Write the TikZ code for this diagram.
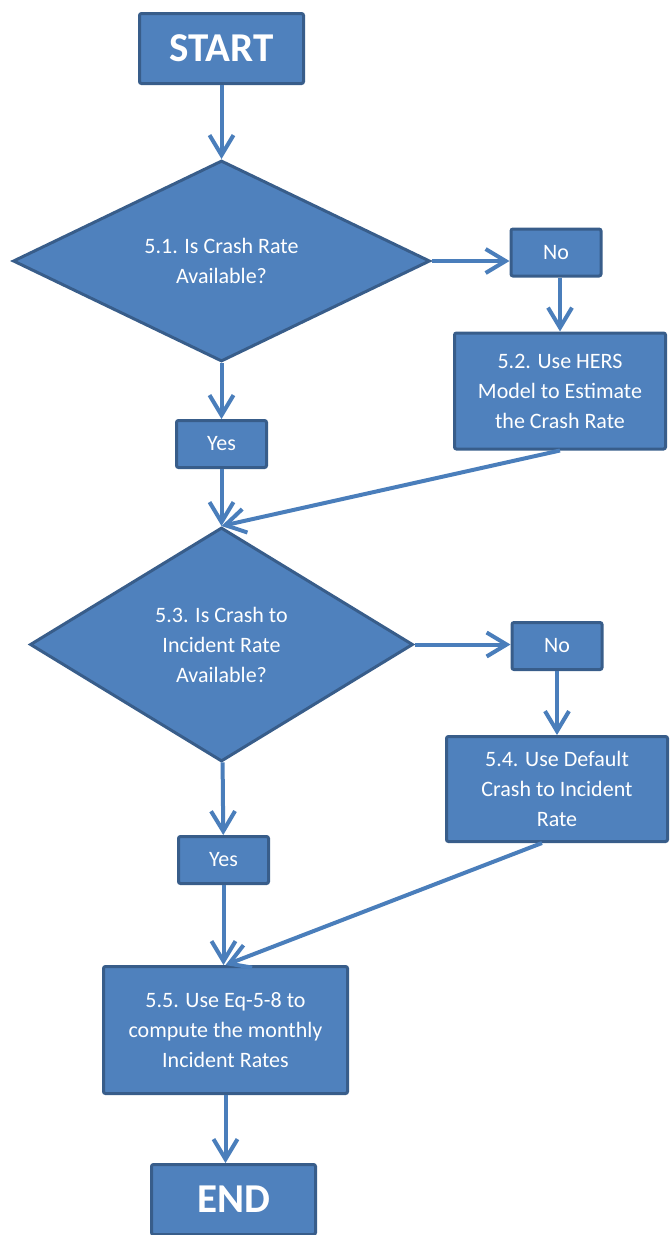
\documentclass[tikz,border=0pt]{standalone}
\usepackage{fontspec}
\setmainfont{Carlito}
\usepackage{xcolor}
\usepackage{tikz}
\usetikzlibrary{shapes.geometric, arrows.meta, positioning}
\definecolor{flowfill}{RGB}{79, 129, 189}
\definecolor{flowedge}{RGB}{56, 93, 138}
\definecolor{flowarrow}{RGB}{74, 126, 187}

\begin{document}
\begin{tikzpicture}[
    x=1pt, y=-1pt,
    every node/.style={font=\fontsize{22}{30}\selectfont, text=white},
    box/.style={rectangle, draw=flowedge, line width=3pt, fill=flowfill, rounded corners=2pt, inner sep=0pt, align=center},
    terminal/.style={box, minimum width=164pt, minimum height=70pt, font=\fontsize{41}{45}\selectfont\bfseries},
    answer/.style={box, minimum width=90pt, minimum height=47pt},
    process/.style={box},
    decision/.style={diamond, aspect=2, draw=flowedge, line width=3pt, fill=flowfill, inner sep=0pt, align=center},
    arrow/.style={-{Straight Barb[length=20pt, width=24pt]}, line width=4pt, draw=flowarrow}
]
\useasboundingbox (0,0) rectangle (670,1235);

% Main flow
\node[terminal] (start) at (221.5,48.5) {START};
\node[decision, minimum width=417pt, minimum height=201pt, below=74pt of start] (crashq) {5.1. Is Crash Rate\\Available?};
\node[answer, below=56pt of crashq] (yes1) {Yes};
\node[decision, minimum width=383pt, minimum height=234pt, below=57pt of yes1] (incq) {5.3. Is Crash to\\Incident Rate\\Available?};
\node[answer, below=72pt of incq, xshift=2pt] (yes2) {Yes};
\node[process, minimum width=244pt, minimum height=127pt, below=80pt of yes2, xshift=2pt] (compute) {5.5. Use Eq-5-8 to\\compute the monthly\\Incident Rates};
\node[terminal, below=68pt of compute, xshift=8pt] (stop) {END};

% No branches
\node[answer, right=78pt of crashq, yshift=8.5pt] (no1) {No};
\node[process, minimum width=211pt, minimum height=116pt, below=54pt of no1, xshift=4pt] (hers) {5.2. Use HERS\\Model to Estimate\\the Crash Rate};
\node[answer, right=96pt of incq, yshift=-1.5pt] (no2) {No};
\node[process, minimum width=221pt, minimum height=105pt, below=64pt of no2] (defrate) {5.4. Use Default\\Crash to Incident\\Rate};

% Arrows
\draw[arrow] (start) -- (crashq);
\draw[arrow] (crashq.east) -- (crashq.east -| no1.west);
\draw[arrow] (no1.south -| hers.north) -- (hers.north);
\draw[arrow] (crashq) -- (yes1);
\draw[arrow] (yes1) -- (incq);
\draw[arrow] (hers.south) -- (incq.north);
\draw[arrow] (incq.east) -- (incq.east -| no2.west);
\draw[arrow] (no2) -- (defrate);
\draw[arrow] (incq) -- (yes2);
\draw[arrow] (yes2.south) -- (yes2.south |- compute.north);
\draw[arrow] ([xshift=-15pt]defrate.south) -- (compute.north);
\draw[arrow] (compute.south) -- (compute.south |- stop.north);

\end{tikzpicture}
\end{document}
